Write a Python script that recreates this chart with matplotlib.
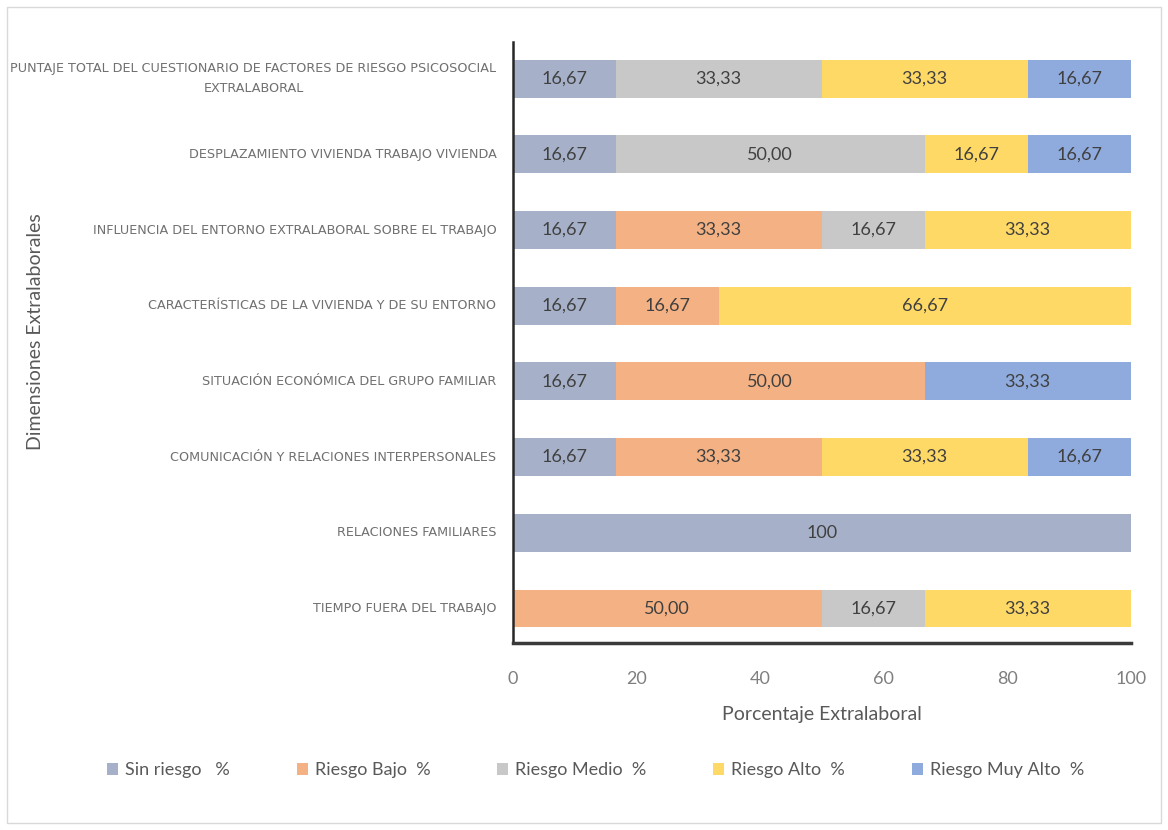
import matplotlib.pyplot as plt
from matplotlib.transforms import blended_transform_factory
import numpy as np

# dimensiones, de abajo hacia arriba
dimensiones = [
    'TIEMPO FUERA DEL TRABAJO',
    'RELACIONES FAMILIARES',
    'COMUNICACIÓN Y RELACIONES INTERPERSONALES',
    'SITUACIÓN ECONÓMICA DEL GRUPO FAMILIAR',
    'CARACTERÍSTICAS DE LA VIVIENDA Y DE SU ENTORNO',
    'INFLUENCIA DEL ENTORNO EXTRALABORAL SOBRE EL TRABAJO',
    'DESPLAZAMIENTO VIVIENDA TRABAJO VIVIENDA',
    'PUNTAJE TOTAL DEL CUESTIONARIO DE FACTORES DE RIESGO PSICOSOCIAL\nEXTRALABORAL',
]

sin_riesgo  = [0.00, 100, 16.67, 16.67, 16.67, 16.67, 16.67, 16.67]
riesgo_bajo = [50.00, 0, 33.33, 50.00, 16.67, 33.33, 0, 0]
riesgo_medio = [16.67, 0, 0, 0, 0, 16.67, 50.00, 33.33]
riesgo_alto = [33.33, 0, 33.33, 0, 66.67, 33.33, 16.67, 33.33]
riesgo_muy_alto = [0, 0, 16.67, 33.33, 0, 0, 16.67, 16.67]

series = [
    ('Sin riesgo   %', sin_riesgo, '#A6B1C9'),
    ('Riesgo Bajo  %', riesgo_bajo, '#F4B183'),
    ('Riesgo Medio  %', riesgo_medio, '#C8C8C8'),
    ('Riesgo Alto  %', riesgo_alto, '#FFD966'),
    ('Riesgo Muy Alto  %', riesgo_muy_alto, '#8FAADC'),
]

plt.rcParams['font.family'] = ['Lato', 'DejaVu Sans']

fig = plt.figure(figsize=(11.68, 8.30), dpi=100)
ax = fig.add_axes([0.439, 0.225, 0.529, 0.724])

y = np.arange(len(dimensiones))
left = np.zeros(len(dimensiones))
for nombre, valores, color in series:
    valores = np.array(valores, dtype=float)
    ax.barh(y, valores, left=left, height=0.5, color=color, label=nombre)
    for yi, v, l in zip(y, valores, left):
        if v > 0:
            txt = '100' if v == 100 else f'{v:.2f}'.replace('.', ',')
            ax.text(l + v / 2, yi, txt, ha='center', va='center',
                    fontsize=13, color='#404040')
    left += valores

ax.set_xlim(0, 100)
ax.set_ylim(-0.46, 7.48)
ax.set_xticks([0, 20, 40, 60, 80, 100])
ax.set_yticks(y)
ax.set_yticklabels([])
ax.tick_params(axis='x', length=0, labelsize=13, labelcolor='#7F7F7F', pad=20)
ax.tick_params(axis='y', length=0)

# etiquetas de las dimensiones (centradas entre líneas, alineadas a la derecha)
trans = blended_transform_factory(fig.transFigure, ax.transData)
for yi, nombre in zip(y, dimensiones):
    fig.text(0.425, yi, nombre, transform=trans, ha='right', va='center',
             multialignment='center', fontsize=9.2, color='#707070',
             family=['DejaVu Sans'], linespacing=1.7)

for s in ['top', 'right']:
    ax.spines[s].set_visible(False)
ax.spines['left'].set_color('#262626')
ax.spines['left'].set_linewidth(1.8)
ax.spines['bottom'].set_color('#3A3A3A')
ax.spines['bottom'].set_linewidth(2.5)

ax.set_xlabel('Porcentaje Extralaboral', fontsize=14, color='#595959', labelpad=14)
fig.text(0.030, 0.60, 'Dimensiones Extralaborales', rotation=90, fontsize=14,
         color='#595959', ha='center', va='center')

handles, labels = ax.get_legend_handles_labels()
fig.legend(handles, labels, loc='center', bbox_to_anchor=(0.51, 0.072), ncol=5,
           frameon=False, fontsize=13, handlelength=0.6, handleheight=0.6,
           columnspacing=3.7, handletextpad=0.4, labelcolor='#595959')

# marco del gráfico
fig.patches.append(plt.Rectangle((0.006, 0.008), 0.988, 0.984, transform=fig.transFigure,
                                 fill=False, edgecolor='#D9D9D9', linewidth=1))

fig.savefig('out.png', dpi=100)
